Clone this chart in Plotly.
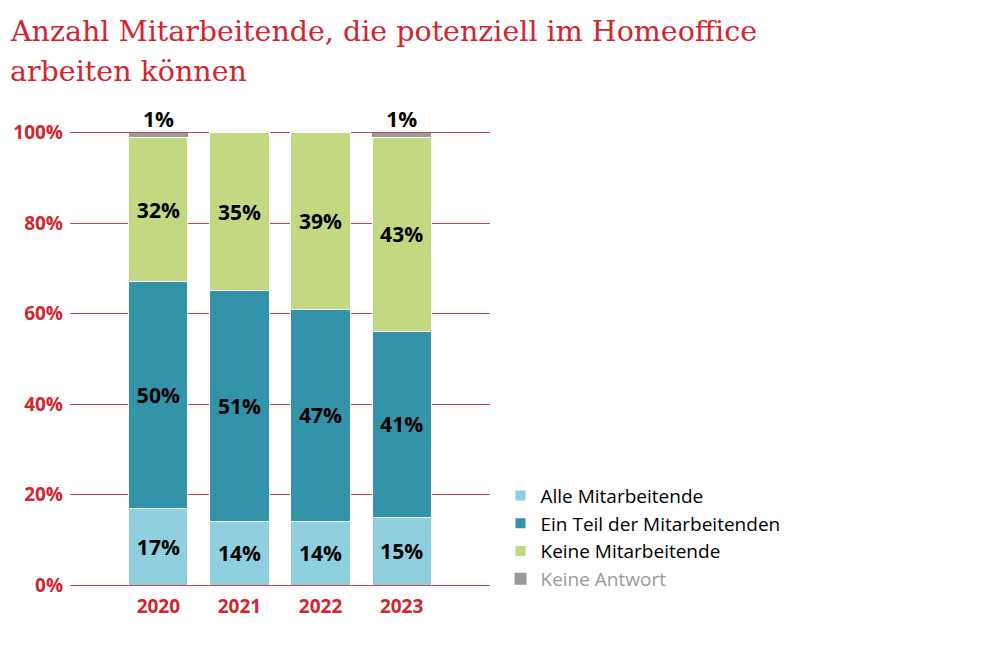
import plotly.graph_objects as go

years = ["2020", "2021", "2022", "2023"]
alle = [17, 14, 14, 15]
teil = [50, 51, 47, 41]
keine = [32, 35, 39, 43]
antwort = [1, 0, 0, 1]

series = [
    ("Alle Mitarbeitende", alle, "#8fd0de"),
    ("Ein Teil der Mitarbeitenden", teil, "#3393a8"),
    ("Keine Mitarbeitende", keine, "#c2d981"),
    ("<span style='color:#9a9a9e'>Keine Antwort</span>", antwort, "#9a9a9f"),
]
title_lines = ["Anzahl Mitarbeitende, die potenziell im Homeoffice", "arbeiten können"]

red = "#d1262f"
fig = go.Figure()
for name, vals, col in series[:3]:
    fig.add_trace(go.Bar(
        x=years, y=vals, name=name, marker=dict(color=col, line=dict(color="white", width=1)),
        text=[f"{v}%" for v in vals], textposition="inside", insidetextanchor="middle",
        textfont=dict(family="Open Sans", size=21, color="black"), width=0.73,
        textangle=0,
    ))
name, vals, col = series[3]
fig.add_trace(go.Bar(
    x=years, y=vals, name=name, marker=dict(color=col, line=dict(width=0)),
    width=0.73, hoverinfo="skip",
))

# "1%" labels above the stacks
tops = [a + b + c + d for a, b, c, d in zip(alle, teil, keine, antwort)]
fig.add_trace(go.Scatter(
    x=[y for y, v in zip(years, antwort) if v], y=[t for t, v in zip(tops, antwort) if v],
    mode="text", text=[f"{v}%" for v in antwort if v], textposition="top center",
    textfont=dict(family="Open Sans", size=21, color="black"), showlegend=False,
))

# title, one annotation per line to get the tighter line spacing
for i, line in enumerate(title_lines):
    fig.add_annotation(
        text=line, xref="paper", yref="paper", x=-0.148, y=1.205 - i * 0.086,
        xanchor="left", yanchor="top", align="left", showarrow=False,
        font=dict(family="DejaVu Serif", size=28.5, color=red),
    )

fig.update_layout(
    barmode="stack", width=990, height=650,
    plot_bgcolor="white", paper_bgcolor="white",
    margin=dict(l=62, r=508, t=102, b=73),
    xaxis=dict(range=[-1.09, 4.09], showgrid=False, showline=False, ticks="",
               ticklabelstandoff=8,
               tickfont=dict(family="Open Sans", size=19, color=red, weight="bold")),
    yaxis=dict(range=[0, 105], tickvals=[0, 20, 40, 60, 80, 100],
               ticktext=["0%", "20%", "40%", "60%", "80%", "100%"],
               showgrid=True, gridcolor="#c8454b", gridwidth=1, zeroline=True,
               zerolinecolor="#c8454b", zerolinewidth=1, ticks="", ticklabelstandoff=6,
               automargin=False,
               tickfont=dict(family="Open Sans", size=19, color=red, weight="bold")),
    legend=dict(x=1.025, xanchor="left", y=0.228, yanchor="top", traceorder="normal",
                font=dict(family="Open Sans", size=19, color="black"),
                itemsizing="constant", tracegroupgap=0),
    font=dict(family="Open Sans"),
)
fig.update_traces(textfont_weight="bold")

fig.write_html("out.html")
